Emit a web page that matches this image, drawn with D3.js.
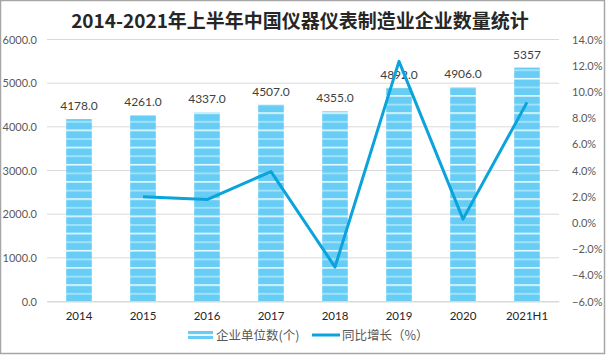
<!DOCTYPE html>
<html><head><meta charset="utf-8">
<script src="https://cdn.jsdelivr.net/npm/d3@7"></script>
<style>body{margin:0;background:#fff}svg{display:block}</style>
</head><body>
<svg id="c" width="606" height="355"></svg>
<script>
const categories = ["2014","2015","2016","2017","2018","2019","2020","2021H1"];
const counts = [4178, 4261, 4337, 4507, 4355, 4892, 4906, 5357];
const countLabels = ["4178.0","4261.0","4337.0","4507.0","4355.0","4892.0","4906.0","5357"];
const growth = [null, 1.99, 1.78, 3.92, -3.37, 12.33, 0.29, 9.2];
const leftTicks = [0,1000,2000,3000,4000,5000,6000];
const rightTicks = [-6,-4,-2,0,2,4,6,8,10,12,14];
const title = "2014-2021年上半年中国仪器仪表制造业企业数量统计";
const legendNames = ["企业单位数(个)", "同比增长（%）"];

const svg = d3.select("#c");
const font = "Lato, 'Noto Sans CJK SC', sans-serif";
const cjk = "'Noto Sans CJK SC', sans-serif";
const pTop = 39.5, pBottom = 301.5, pLeft = 47, pRight = 559;

const defs = svg.append("defs");
const pat = defs.append("pattern").attr("id","stripe").attr("patternUnits","userSpaceOnUse")
  .attr("width", 8).attr("height", 17.2).attr("y", pBottom);
pat.append("rect").attr("width",8).attr("height",17.2).attr("fill","#68cdf5");
pat.append("rect").attr("y",0).attr("width",8).attr("height",1.6).attr("fill","#eaf8fe");
pat.append("rect").attr("y",8.6).attr("width",8).attr("height",1.8).attr("fill","#a6e2fa");

const lp = defs.append("pattern").attr("id","lstripe").attr("patternUnits","userSpaceOnUse")
  .attr("width", 8).attr("height", 8).attr("y", 331);
lp.append("rect").attr("width",8).attr("height",8).attr("fill","#68cdf5");
lp.append("rect").attr("y",3).attr("width",8).attr("height",2).attr("fill","#eaf8fe");

svg.append("rect").attr("x",0.5).attr("y",0.5).attr("width",604).attr("height",353)
  .attr("fill","#fff").attr("stroke","#a6a6a6").attr("stroke-width",1.5);

const x = d3.scaleBand().domain(categories).range([pLeft,pRight]).paddingInner(0.6).paddingOuter(0.3);
const y = d3.scaleLinear().domain([0,6000]).range([pBottom, pTop]);
const y2 = d3.scaleLinear().domain([-6,14]).range([pBottom, pTop]);

// gridlines
svg.append("g").selectAll("line").data(leftTicks).join("line")
  .attr("x1",pLeft).attr("x2",pRight).attr("y1",d=>y(d)).attr("y2",d=>y(d))
  .attr("stroke","#d9d9d9").attr("stroke-width",1);

// left axis
const la = svg.append("g").attr("transform",`translate(${pLeft},0)`)
  .call(d3.axisLeft(y).tickValues(leftTicks).tickFormat(d=>d3.format(".1f")(d)).tickSize(0).tickPadding(10));
la.select(".domain").remove();
la.selectAll("text").attr("font-family",font).attr("font-size",11).attr("fill","#595959");

// right axis
const ra = svg.append("g").attr("transform",`translate(${pRight},0)`)
  .call(d3.axisRight(y2).tickValues(rightTicks).tickFormat(d=>d3.format(".1f")(d)+"%").tickSize(0).tickPadding(13));
ra.select(".domain").remove();
ra.selectAll("text").attr("font-family",font).attr("font-size",11).attr("fill","#595959");

// x axis
const xa = svg.append("g").attr("transform",`translate(0,${pBottom})`)
  .call(d3.axisBottom(x).tickSize(0).tickPadding(10));
xa.select(".domain").attr("stroke","#d9d9d9");
xa.selectAll("text").attr("font-family",font).attr("font-size",11.5).attr("fill","#262626");

// bars
svg.append("g").selectAll("rect").data(counts).join("rect")
  .attr("x",(d,i)=>x(categories[i])).attr("width",x.bandwidth())
  .attr("y",d=>y(d)).attr("height",d=>pBottom-y(d)).attr("fill","url(#stripe)");

// bar labels
svg.append("g").selectAll("text").data(counts).join("text")
  .attr("x",(d,i)=>x(categories[i])+x.bandwidth()/2).attr("y",d=>y(d)-9)
  .attr("text-anchor","middle").attr("font-family",font).attr("font-size",12).attr("fill","#404040")
  .text((d,i)=>countLabels[i]);

// line
const pts = growth.map((g,i)=>({g,c:categories[i]})).filter(d=>d.g!==null);
svg.append("path").datum(pts)
  .attr("d", d3.line().x(d=>x(d.c)+x.bandwidth()/2).y(d=>y2(d.g)))
  .attr("fill","none").attr("stroke","#0aa3dc").attr("stroke-width",3).attr("stroke-linejoin","round");

// title
svg.append("text").attr("x",300).attr("y",28).attr("text-anchor","middle")
  .attr("font-family",cjk).attr("font-weight","bold").attr("font-size",19).attr("fill","#262626")
  .text(title);

// legend
const lg = svg.append("g");
lg.append("rect").attr("x",188).attr("y",331).attr("width",25).attr("height",8).attr("fill","url(#lstripe)");
lg.append("text").attr("x",216).attr("y",339.5).attr("font-family",cjk).attr("font-size",12.5).attr("fill","#595959").text(legendNames[0]);
lg.append("line").attr("x1",312).attr("x2",340).attr("y1",335).attr("y2",335).attr("stroke","#0aa3dc").attr("stroke-width",3);
lg.append("text").attr("x",342).attr("y",339.5).attr("font-family",cjk).attr("font-size",12.5).attr("fill","#595959").text(legendNames[1]);
</script>
</body></html>
